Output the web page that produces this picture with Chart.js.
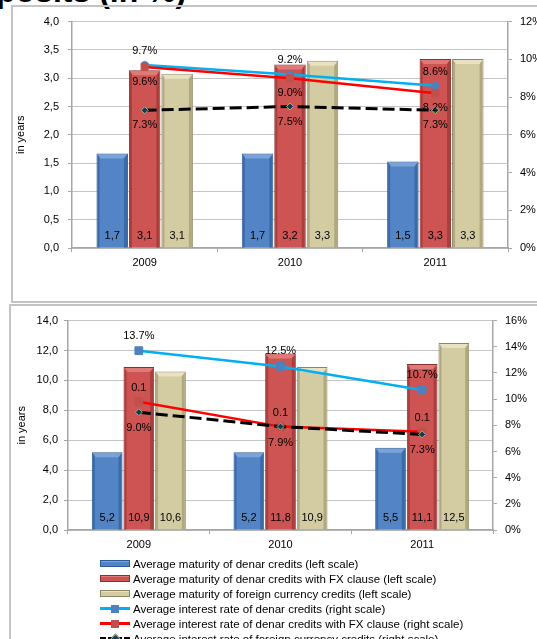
<!DOCTYPE html>
<html>
<head>
<meta charset="utf-8">
<script src="https://cdn.jsdelivr.net/npm/chart.js@4.4.1/dist/chart.umd.min.js"></script>
<style>
    html, body { margin: 0; padding: 0; background: #fff; overflow: hidden; width: 537px; height: 639px; }
    body { position: relative; font-family: 'Liberation Sans', Arial, sans-serif; }
    .title { position: absolute; left: -4px; top: -25px; font-size: 32px; line-height: 32px; font-weight: bold; white-space: nowrap; }
    .frame { position: absolute; border: 2px solid #c4c4c4; box-sizing: border-box; }
    .box { position: absolute; width: 540px; }
    #legend { position: absolute; left: 100px; top: 556px; font-size: 11.5px; color: #000; }
    .item { height: 15px; display: flex; align-items: center; white-space: nowrap; }
    .sym { width: 30px; height: 15px; position: relative; margin-right: 3px; flex: none; }
</style>
</head>
<body>
<div class="title">posits (in %)</div>
<div class="frame" style="left:11px; top:5px; width:540px; height:298px;"></div>
<div class="frame" style="left:9px; top:304px; width:540px; height:400px;"></div>
<div class="box" style="left:14px; top:6px; height:294px;"><canvas id="topChart"></canvas></div>
<div class="box" style="left:12px; top:306px; height:333px;"><canvas id="bottomChart"></canvas></div>
<div id="legend"></div>
<script>
// Data
const years = ['2009', '2010', '2011'];

const seriesNames = [
    'Average maturity of denar credits (left scale)',
    'Average maturity of denar credits with FX clause (left scale)',
    'Average maturity of foreign currency credits (left scale)',
    'Average interest rate of denar credits (right scale)',
    'Average interest rate of denar credits with FX clause (right scale)',
    'Average interest rate of foreign currency credits (right scale)'
];

// upper panel (years / %)
const topDenar = [1.67, 1.67, 1.53];
const topDenarFx = [3.14, 3.24, 3.34];
const topForeign = [3.08, 3.31, 3.34];
const topRateDenar = [9.7, 9.2, 8.6];
const topRateDenarFx = [9.6, 9.0, 8.2];
const topRateForeign = [7.3, 7.5, 7.3];
const topLeftTicks = [0, 4, 0.5];   // min, max, step
const topRightTicks = [0, 12, 2];

// lower panel (years / %)
const bottomDenar = [5.2, 5.2, 5.5];
const bottomDenarFx = [10.9, 11.8, 11.1];
const bottomForeign = [10.6, 10.9, 12.5];
const bottomRateDenar = [13.7, 12.5, 10.7];
const bottomRateDenarFx = [9.8, 7.9, 7.5];
const bottomRateForeign = [9.0, 7.9, 7.3];
const bottomLeftTicks = [0, 14, 2];
const bottomRightTicks = [0, 16, 2];

Chart.defaults.font.family = "'Liberation Sans', Arial, sans-serif";
Chart.defaults.font.size = 11;
Chart.defaults.color = '#000';

const fmtYears = v => v.toFixed(1).replace('.', ',');
const fmtPct = v => v.toFixed(1) + '%';
const fmtShare = v => (v / 100).toFixed(1);

// labels under/over marks
const valueLabels = {
    id: 'valueLabels',
    afterDatasetsDraw(chart) {
        const ctx = chart.ctx;
        ctx.save();
        ctx.font = "11px 'Liberation Sans', Arial, sans-serif";
        ctx.fillStyle = '#000';
        ctx.textAlign = 'center';
        ctx.textBaseline = 'middle';
        chart.data.datasets.forEach((ds, i) => {
            if (!ds.labelFormat) return;
            const meta = chart.getDatasetMeta(i);
            meta.data.forEach((el, j) => {
                const text = ds.labelFormat(ds.data[j]);
                const y = meta.type === 'bar' ? el.base - 12 : el.y + ds.labelOffset;
                ctx.fillText(text, el.x, y);
            });
        });
        ctx.restore();
    }
};

// bevelled look of the bars
const bevel = {
    id: 'bevel',
    afterDatasetDraw(chart, args) {
        const ds = chart.data.datasets[args.index];
        if (!ds.bevel) return;
        const ctx = chart.ctx;
        ctx.save();
        args.meta.data.forEach(el => {
            const l = el.x - el.width / 2, r = el.x + el.width / 2, t = el.y, b = el.base;
            ctx.fillStyle = ds.bevel[0];
            ctx.beginPath();
            ctx.moveTo(l + 1, t + 1); ctx.lineTo(r - 1, t + 1); ctx.lineTo(r - 4, t + 5); ctx.lineTo(l + 4, t + 5);
            ctx.closePath(); ctx.fill();
            ctx.fillStyle = ds.bevel[1];
            ctx.beginPath();
            ctx.moveTo(r - 1, t + 1); ctx.lineTo(r - 1, b); ctx.lineTo(r - 4, b); ctx.lineTo(r - 4, t + 5);
            ctx.closePath(); ctx.fill();
            ctx.beginPath();
            ctx.moveTo(l + 1, t + 1); ctx.lineTo(l + 3, t + 4); ctx.lineTo(l + 3, b); ctx.lineTo(l + 1, b);
            ctx.closePath(); ctx.fill();
        });
        ctx.restore();
    }
};

function barSet(label, data, color, border, light, dark) {
    return {
        type: 'bar', label: label, data: data, yAxisID: 'y', order: 5,
        backgroundColor: color, borderColor: border, borderWidth: 1,
        categoryPercentage: 0.67, barPercentage: 0.97,
        bevel: [light, dark], labelFormat: fmtYears
    };
}

function lineSet(label, data, o) {
    return Object.assign({
        type: 'line', label: label, data: data, yAxisID: 'y1',
        borderWidth: 2.5, pointBorderWidth: 1, tension: 0
    }, o);
}

function makeChart(id, bars, lines, left, right, sizes) {
    return new Chart(document.getElementById(id), {
        data: { labels: years, datasets: bars.concat(lines) },
        options: {
            responsive: true,
            maintainAspectRatio: false,
            animation: false,
            layout: { padding: { top: sizes.top, right: 0, left: 0, bottom: 0 } },
            plugins: { legend: { display: false }, tooltip: { enabled: false } },
            scales: {
                x: {
                    grid: { drawOnChartArea: false, tickLength: 4, color: '#a6a6a6', offset: true },
                    border: { color: '#a6a6a6', width: 1.5 },
                    ticks: { padding: 4 },
                    afterFit: s => { s.height = sizes.xHeight; }
                },
                y: {
                    position: 'left',
                    min: left[0], max: left[1],
                    ticks: { stepSize: left[2], callback: fmtYears, padding: sizes.leftPad },
                    grid: { color: '#8a8a8a', tickColor: '#a6a6a6', tickLength: 4 },
                    border: { color: '#a6a6a6', width: 1.5, dash: [1, 1] },
                    title: { display: true, text: 'in years', padding: { top: sizes.titlePad, bottom: 0 } },
                    afterFit: s => { s.width = sizes.leftWidth; }
                },
                y1: {
                    position: 'right',
                    min: right[0], max: right[1],
                    ticks: { stepSize: right[2], callback: v => v + '%', padding: 8 },
                    grid: { drawOnChartArea: false, color: '#a6a6a6', tickLength: 4 },
                    border: { color: '#a6a6a6', width: 1.5 },
                    afterFit: s => { s.width = sizes.rightWidth; }
                }
            }
        },
        plugins: [bevel, valueLabels]
    });
}

const blueBar = ['#5384c6', '#2c5a94', '#7ba3d8', '#3b6aa8'];
const redBar = ['#cd5452', '#8c2f2d', '#e07a78', '#a83f3d'];
const tanBar = ['#d3cca3', '#8c8662', '#e8e2c2', '#b0a97f'];
const diamond = { borderColor: '#000', borderDash: [12, 5], borderWidth: 3, pointStyle: 'rectRot', pointRadius: 3.5, pointBackgroundColor: '#17375e', pointBorderColor: '#9bbb59', order: 0 };

const topChart = makeChart('topChart', [
    barSet(seriesNames[0], topDenar, ...blueBar),
    barSet(seriesNames[1], topDenarFx, ...redBar),
    barSet(seriesNames[2], topForeign, ...tanBar)
], [
    lineSet(seriesNames[3], topRateDenar, { borderColor: '#00b0f0', pointStyle: 'circle', pointRadius: 3.5, pointBackgroundColor: '#4f81bd', pointBorderColor: '#4f81bd', order: 2, labelFormat: fmtPct, labelOffset: -14 }),
    lineSet(seriesNames[4], topRateDenarFx, { borderColor: '#ff0000', pointStyle: 'rect', pointRadius: 5, pointBackgroundColor: '#c0504d', pointBorderColor: '#c0504d', order: 1, labelFormat: fmtPct, labelOffset: 15 }),
    lineSet(seriesNames[5], topRateForeign, Object.assign({ labelFormat: fmtPct, labelOffset: 15 }, diamond))
], topLeftTicks, topRightTicks, { top: 5, xHeight: 52, leftWidth: 58, rightWidth: 46, leftPad: 9, titlePad: 0 });

const bottomChart = makeChart('bottomChart', [
    barSet(seriesNames[0], bottomDenar, ...blueBar),
    barSet(seriesNames[1], bottomDenarFx, ...redBar),
    barSet(seriesNames[2], bottomForeign, ...tanBar)
], [
    lineSet(seriesNames[3], bottomRateDenar, { borderColor: '#00b0f0', pointStyle: 'rect', pointRadius: 5.5, pointBackgroundColor: '#4f81bd', pointBorderColor: '#4f81bd', order: 2, labelFormat: fmtPct, labelOffset: -15 }),
    lineSet(seriesNames[4], bottomRateDenarFx, { borderColor: '#ff0000', pointStyle: 'rect', pointRadius: 5.5, pointBackgroundColor: '#c0504d', pointBorderColor: '#c0504d', order: 1, labelFormat: fmtShare, labelOffset: -14 }),
    lineSet(seriesNames[5], bottomRateForeign, Object.assign({ labelFormat: fmtPct, labelOffset: 16 }, diamond))
], bottomLeftTicks, bottomRightTicks, { top: 14, xHeight: 109, leftWidth: 56, rightWidth: 59, leftPad: 6, titlePad: 3 });

// legend of the lower panel, built from its datasets
const legendEl = document.getElementById('legend');
bottomChart.data.datasets.forEach(ds => {
    const row = document.createElement('div');
    row.className = 'item';
    const sym = document.createElement('span');
    sym.className = 'sym';
    if (ds.type === 'bar') {
        sym.innerHTML = '<span style="position:absolute;left:0;top:4px;width:28px;height:5px;border:1px solid ' + ds.borderColor +
            ';background:' + ds.backgroundColor + ';box-shadow:inset 0 1px 0 ' + ds.bevel[0] + '"></span>';
    } else {
        const dash = ds.borderDash ? 'dashed' : 'solid';
        let marker;
        if (ds.pointStyle === 'rectRot') {
            marker = '<span style="position:absolute;left:12px;top:4px;width:5px;height:5px;transform:rotate(45deg);background:' + ds.pointBackgroundColor + ';border:1px solid ' + ds.pointBorderColor + '"></span>';
        } else {
            marker = '<span style="position:absolute;left:11px;top:4px;width:8px;height:8px;background:' + ds.pointBackgroundColor + '"></span>';
        }
        sym.innerHTML = '<span style="position:absolute;left:0;top:6px;width:30px;border-top:3px ' + dash + ' ' + ds.borderColor + '"></span>' + marker;
    }
    row.appendChild(sym);
    row.appendChild(document.createTextNode(ds.label));
    legendEl.appendChild(row);
});
</script>
</body>
</html>
